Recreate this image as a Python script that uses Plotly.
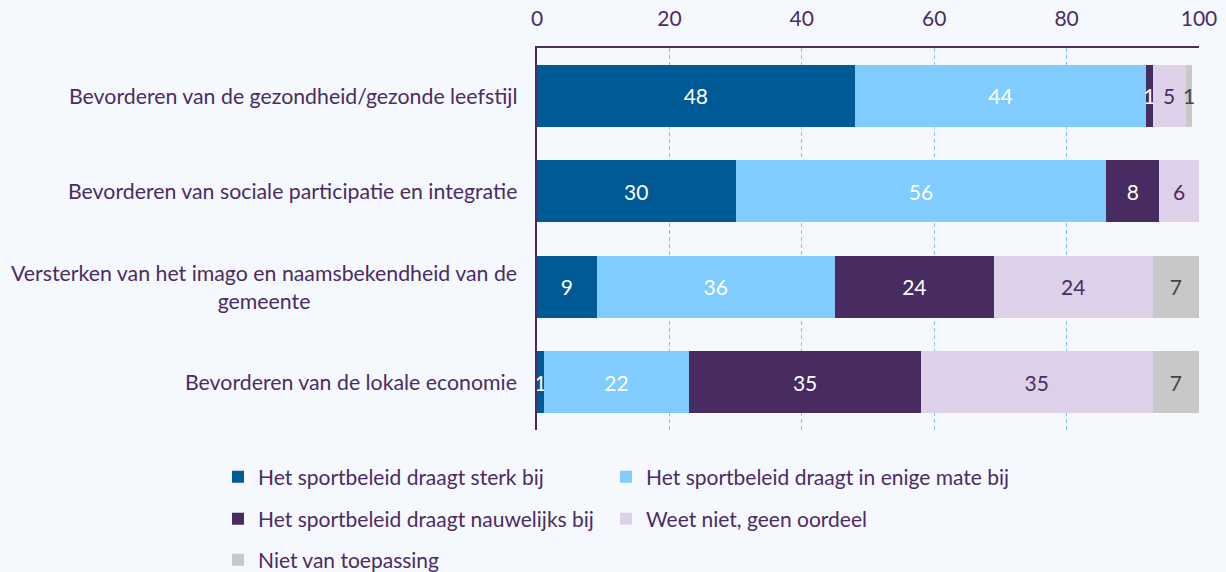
import plotly.graph_objects as go

categories = [
    "Bevorderen van de gezondheid/gezonde leefstijl",
    "Bevorderen van sociale participatie en integratie",
    "Versterken van het imago en naamsbekendheid van de<br>gemeente",
    "Bevorderen van de lokale economie",
]
series_names = [
    "Het sportbeleid draagt sterk bij",
    "Het sportbeleid draagt in enige mate bij",
    "Het sportbeleid draagt nauwelijks bij",
    "Weet niet, geen oordeel",
    "Niet van toepassing",
]
sterk = [48, 30, 9, 1]
enige = [44, 56, 36, 22]
nauwelijks = [1, 8, 24, 35]
weet_niet = [5, 6, 24, 35]
niet_toep = [1, 0, 7, 7]
tick_vals = [0, 20, 40, 60, 80, 100]

series_values = [sterk, enige, nauwelijks, weet_niet, niet_toep]
colors = ["#005a96", "#80ccff", "#482c61", "#dcd1e8", "#c8c8c8"]
text_colors = ["white", "white", "white", "#4b2c63", "#444444"]
legend_ids = ["legend", "legend2", "legend3", "legend4", "legend5"]
# legend placement (pixels in the 1226x572 page): (left x, centre y)
legend_pos = [(218, 477), (606, 477), (218, 519), (606, 519), (218, 560)]

TXT = "#4b2c63"
BG = "#f5f8fd"
FONT = "Lato"
W, H = 1226, 572
FS = 21

fig = go.Figure()
for name, vals, col, tcol, lg in zip(series_names, series_values, colors, text_colors, legend_ids):
    fig.add_trace(go.Bar(
        y=categories, x=vals, name=name, orientation="h",
        marker=dict(color=col, line=dict(width=0)),
        text=[str(v) if v else "" for v in vals],
        textposition="inside", insidetextanchor="middle",
        constraintext="none", textangle=0,
        insidetextfont=dict(color=tcol, size=FS, family=FONT),
        legend=lg,
    ))

for c in categories:
    fig.add_annotation(x=0, xref="paper", xanchor="right", xshift=-18,
                       y=c, yref="y", text=c, showarrow=False, align="center",
                       font=dict(size=21.3, color=TXT, family=FONT))

legends = {}
for lg, (px, py) in zip(legend_ids, legend_pos):
    legends[lg] = dict(orientation="h", xref="container", yref="container",
                       x=px / W, y=1 - py / H, xanchor="left", yanchor="middle",
                       traceorder="normal",
                       font=dict(size=FS, color=TXT, family=FONT),
                       bgcolor="rgba(0,0,0,0)", itemclick=False,
                       borderwidth=0)

fig.update_layout(
    barmode="stack", bargap=0.35,
    width=W, height=H,
    margin=dict(l=537, r=27, t=48, b=142, autoexpand=False),
    paper_bgcolor=BG, plot_bgcolor=BG,
    font=dict(family=FONT, color=TXT),
    showlegend=True,
    **legends,
    xaxis=dict(side="top", range=[0, 100], tickvals=tick_vals,
               showgrid=True, gridcolor="#7cc7f5", griddash="4px,3px", gridwidth=1,
               showline=True, linecolor=TXT, linewidth=2,
               zeroline=False, ticks="", ticklabelstandoff=12, automargin=False,
               tickfont=dict(size=FS, color=TXT, family=FONT), fixedrange=True),
    yaxis=dict(autorange="reversed", showticklabels=False, showline=True,
               automargin=False,
               linecolor=TXT, linewidth=2, showgrid=False, ticks="", fixedrange=True),
)

fig.write_html("out.html", config={"displayModeBar": False, "staticPlot": False},
               post_script="document.body.style.margin='0px';document.body.style.background='%s';" % BG)
